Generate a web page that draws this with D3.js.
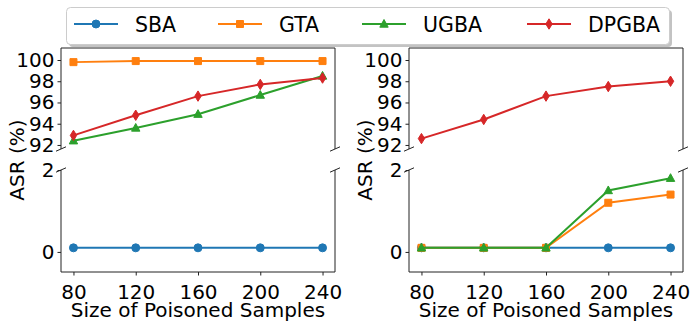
<!DOCTYPE html>
<html>
<head>
<meta charset="utf-8">
<script src="https://cdn.jsdelivr.net/npm/d3@7"></script>
<style>
body { margin: 0; background: #fff; }
text { font-family: "DejaVu Sans", sans-serif; }
</style>
</head>
<body>
<div class="chart"></div>
<script>
const sizes = [80, 120, 160, 200, 240]
const seriesNames = ["SBA", "GTA", "UGBA", "DPGBA"]
const colors = ["#1f77b4", "#ff7f0e", "#2ca02c", "#d62728"]
const markerKinds = ["circle", "square", "triangle", "diamond"]

// left panel
const leftSBA = [0.1, 0.1, 0.1, 0.1, 0.1]
const leftGTA = [99.8, 99.9, 99.9, 99.9, 99.9]
const leftUGBA = [92.4, 93.6, 94.9, 96.7, 98.5]
const leftDPGBA = [92.9, 94.8, 96.6, 97.7, 98.3]
// right panel
const rightSBA = [0.1, 0.1, 0.1, 0.1, 0.1]
const rightGTA = [0.1, 0.1, 0.1, 1.2, 1.4]
const rightUGBA = [0.1, 0.1, 0.1, 1.5, 1.8]
const rightDPGBA = [92.6, 94.4, 96.6, 97.5, 98.0]

const topTicks = [92, 94, 96, 98, 100]
const bottomTicks = [0, 2]

const width = 698
const height = 328
const fontSize = 20

const svg = d3.select(".chart").append("svg")
    .attr("width", width)
    .attr("height", height)

const topBox = { y0: 48, y1: 149 }
const bottomBox = { y0: 170, y1: 272 }

const panels = [
    { x0: 61, x1: 335, series: [leftSBA, leftGTA, leftUGBA, leftDPGBA] },
    { x0: 409, x1: 683, series: [rightSBA, rightGTA, rightUGBA, rightDPGBA] }
]

function markerPath(kind) {
    if (kind === "circle") return d3.symbol(d3.symbolCircle, 50)()
    if (kind === "square") return "M-3.5,-3.5H3.5V3.5H-3.5Z"
    if (kind === "triangle") return "M0,-4.5L4.2,3.2L-4.2,3.2Z"
    return "M0,-5.2L3.2,0L0,5.2L-3.2,0Z"
}

panels.forEach((p, pi) => {
    const xScale = d3.scaleLinear().domain([72, 248]).range([p.x0, p.x1])
    const yTop = d3.scaleLinear().domain([91.62, 101.13]).range([topBox.y1, topBox.y0])
    const yBottom = d3.scaleLinear().domain([-0.49, 2]).range([bottomBox.y1, bottomBox.y0])

    const subs = [
        { box: topBox, y: yTop, ticks: topTicks },
        { box: bottomBox, y: yBottom, ticks: bottomTicks }
    ]

    subs.forEach((s, si) => {
        const clipId = "clip" + pi + "_" + si
        svg.append("clipPath").attr("id", clipId)
            .append("rect")
            .attr("x", p.x0).attr("y", s.box.y0)
            .attr("width", p.x1 - p.x0).attr("height", s.box.y1 - s.box.y0)

        const g = svg.append("g").attr("clip-path", "url(#" + clipId + ")")

        p.series.forEach((vals, k) => {
            const pts = sizes.map((x, i) => [xScale(x), s.y(vals[i])])
            g.append("path")
                .attr("d", d3.line()(pts))
                .attr("fill", "none")
                .attr("stroke", colors[k])
                .attr("stroke-width", 2)
            g.selectAll(null)
                .data(pts)
                .enter()
                .append("path")
                .attr("transform", d => "translate(" + d[0] + "," + d[1] + ")")
                .attr("d", markerPath(markerKinds[k]))
                .attr("fill", colors[k])
                .attr("stroke", colors[k])
                .attr("stroke-width", 1)
        })

        // y axis ticks
        const yAxis = svg.append("g")
            .attr("transform", "translate(" + p.x0 + ",0)")
            .call(d3.axisLeft(s.y).tickValues(s.ticks).tickSize(3.5).tickPadding(3).tickFormat(d3.format("d")))
        yAxis.select(".domain").remove()
        yAxis.selectAll("line").attr("stroke", "#222")
        yAxis.selectAll("text")
            .attr("font-size", fontSize)
            .attr("font-family", "DejaVu Sans")
            .attr("fill", "#000")

        // spines
        const spines = svg.append("g").attr("stroke", "#222").attr("stroke-width", 1).attr("fill", "none")
        spines.append("line").attr("x1", p.x0).attr("x2", p.x0).attr("y1", s.box.y0).attr("y2", s.box.y1)
        spines.append("line").attr("x1", p.x1).attr("x2", p.x1).attr("y1", s.box.y0).attr("y2", s.box.y1)
        const edgeY = si === 0 ? s.box.y0 : s.box.y1
        spines.append("line").attr("x1", p.x0).attr("x2", p.x1).attr("y1", edgeY).attr("y2", edgeY)

        // break marks
        const breakY = si === 0 ? s.box.y1 : s.box.y0;
        [p.x0, p.x1].forEach(bx => {
            spines.append("line")
                .attr("x1", bx - 5).attr("y1", breakY + 2.2)
                .attr("x2", bx + 5).attr("y2", breakY - 2.2)
        })
    })

    const xAxis = svg.append("g")
        .attr("transform", "translate(0," + bottomBox.y1 + ")")
        .call(d3.axisBottom(xScale).tickValues(sizes).tickSize(3.5).tickPadding(9))
    xAxis.select(".domain").remove()
    xAxis.selectAll("line").attr("stroke", "#222")
    xAxis.selectAll("text")
        .attr("font-size", fontSize)
        .attr("font-family", "DejaVu Sans")
        .attr("fill", "#000")

    svg.append("text")
        .attr("x", (p.x0 + p.x1) / 2)
        .attr("y", 317)
        .attr("text-anchor", "middle")
        .attr("font-size", fontSize)
        .text("Size of Poisoned Samples")

    svg.append("text")
        .attr("transform", "translate(" + (p.x0 - 37) + "," + ((topBox.y0 + bottomBox.y1) / 2) + ") rotate(-90)")
        .attr("text-anchor", "middle")
        .attr("font-size", fontSize)
        .text("ASR (%)")
})

// legend
const legend = svg.append("g")
legend.append("rect")
    .attr("x", 69).attr("y", 10).attr("width", 603).attr("height", 37)
    .attr("rx", 4).attr("fill", "#888").attr("opacity", 0.5)
legend.append("rect")
    .attr("x", 66.5).attr("y", 7.5).attr("width", 603).attr("height", 37)
    .attr("rx", 4).attr("fill", "#fff").attr("stroke", "#ccc").attr("stroke-width", 1)

const legendLineX = [74, 218, 362, 527]
seriesNames.forEach((name, k) => {
    const lx = legendLineX[k]
    legend.append("line")
        .attr("x1", lx).attr("x2", lx + 44).attr("y1", 24).attr("y2", 24)
        .attr("stroke", colors[k]).attr("stroke-width", 2)
    legend.append("path")
        .attr("transform", "translate(" + (lx + 22) + ",24)")
        .attr("d", markerPath(markerKinds[k]))
        .attr("fill", colors[k]).attr("stroke", colors[k])
    legend.append("text")
        .attr("x", lx + 61).attr("y", 32)
        .attr("font-size", fontSize + 0.5)
        .text(name)
})
</script>
</body>
</html>
